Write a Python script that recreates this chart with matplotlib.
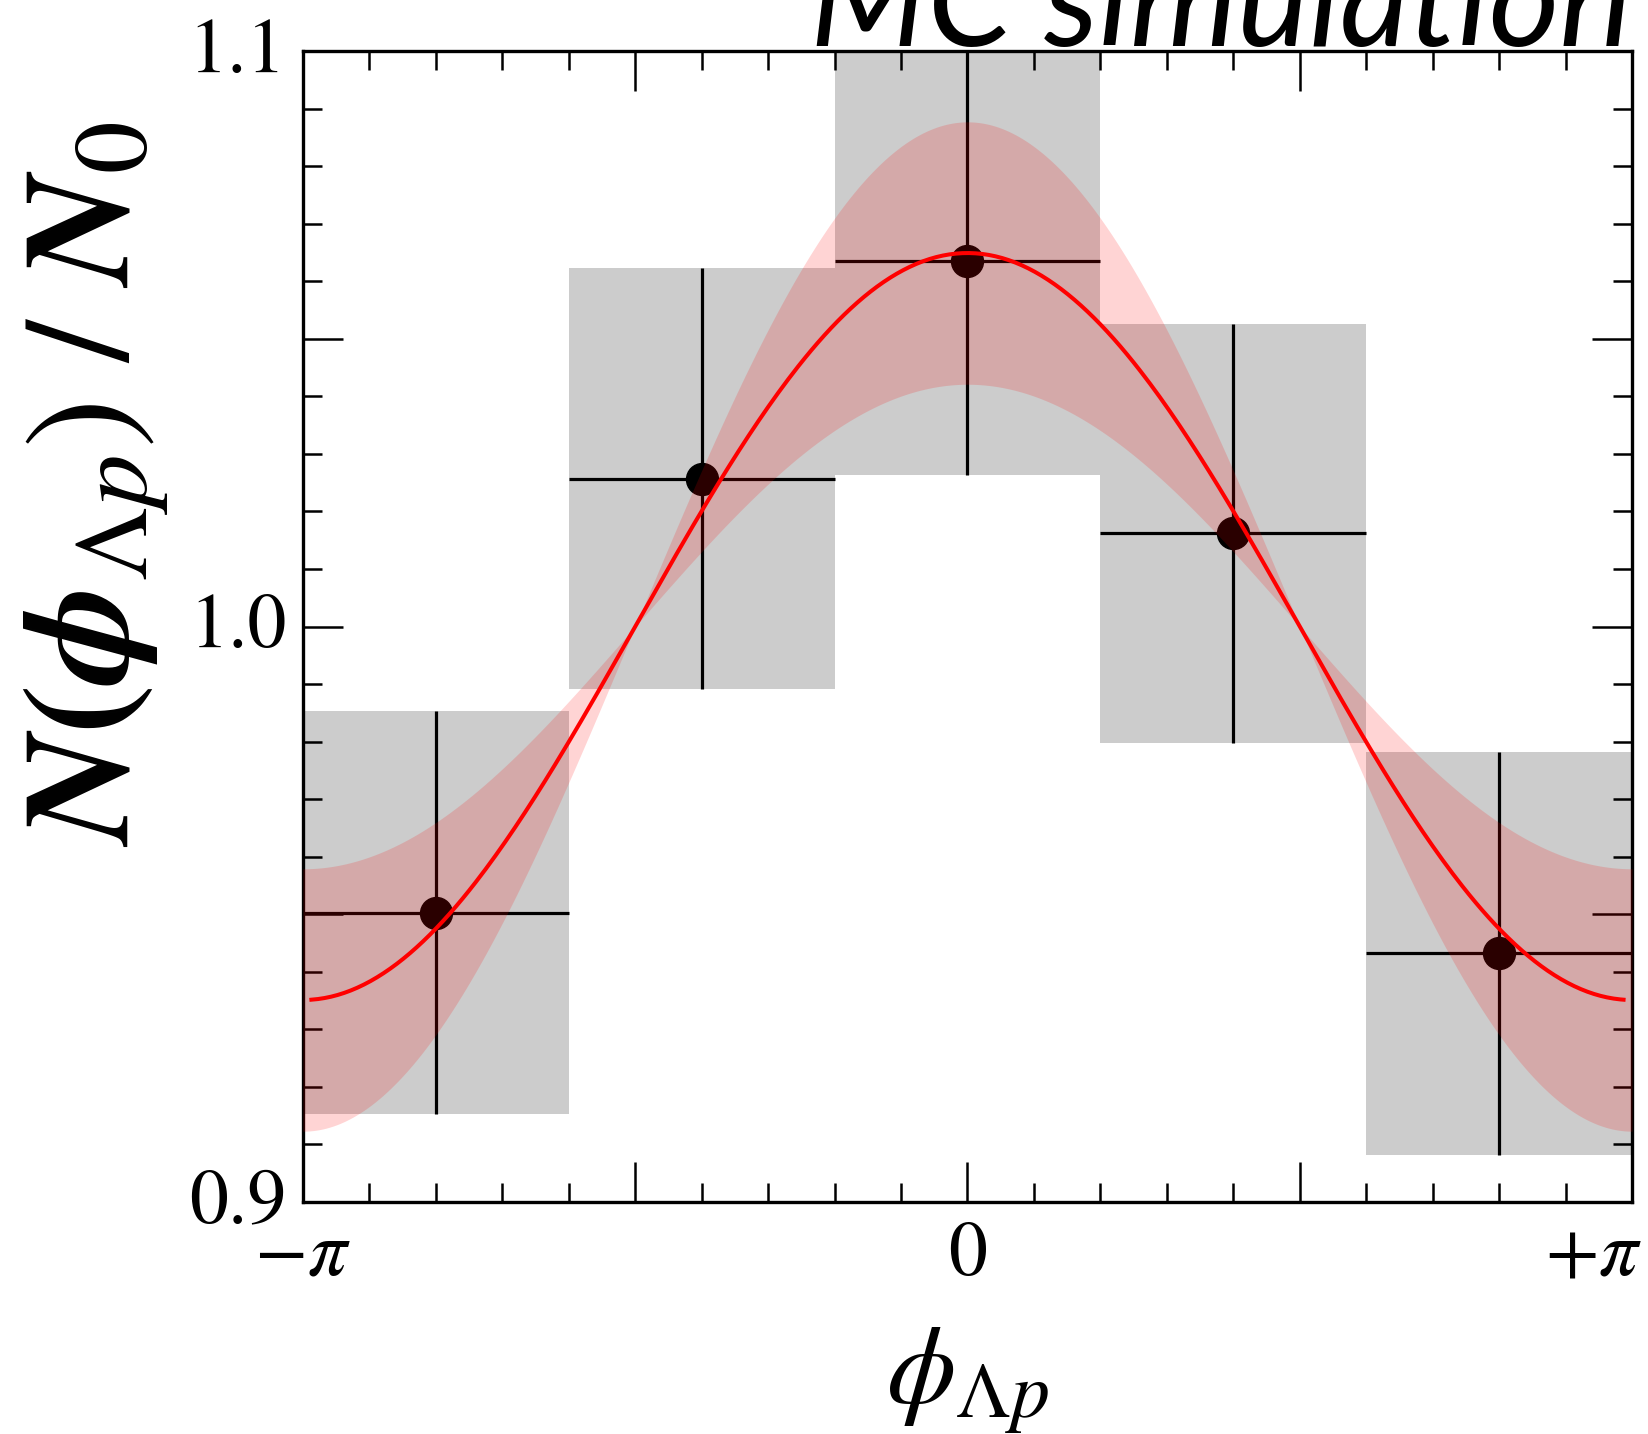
import numpy as np
import matplotlib
matplotlib.use("Agg")
import matplotlib.pyplot as plt
import matplotlib.transforms as mtransforms
from matplotlib.ticker import FixedLocator, MultipleLocator, FixedFormatter

# ---- data ----
bin_edges_pi = [-1.0, -0.6, -0.2, 0.2, 0.6, 1.0]          # in units of pi
ratio_values = [0.9503, 1.0257, 1.0635, 1.0162, 0.9432]
ratio_errors = [0.0350, 0.0366, 0.0371, 0.0364, 0.0350]
fit_offset = 1.0
fit_amplitude = 0.0649
fit_amplitude_err = 0.0228
xtick_labels = [r'$-\pi$', '', r'$0$', '', r'$+\pi$']
ytick_labels = ['0.9', '', '1.0', '', '1.1']

edges = np.array(bin_edges_pi) * np.pi
centers = 0.5 * (edges[:-1] + edges[1:])
halfw = 0.5 * (edges[1:] - edges[:-1])
vals = np.array(ratio_values)
errs = np.array(ratio_errors)

plt.rcParams['mathtext.fontset'] = 'stix'
plt.rcParams['font.family'] = ['STIXGeneral', 'DejaVu Sans']

fig = plt.figure(figsize=(16.49, 14.34), dpi=100)
ax = fig.add_axes([0.1837, 0.1618, 0.9897 - 0.1837, 0.9644 - 0.1618])

# gray systematic boxes
for c, h, v, e in zip(centers, halfw, vals, errs):
    ax.fill_between([c - h, c + h], [v - e] * 2, [v + e] * 2,
                    color='#cccccc', lw=0, zorder=1)

# data points with error bars
ax.errorbar(centers, vals, yerr=errs, xerr=halfw, fmt='o', color='black',
            ms=23, elinewidth=2.3, capsize=0, zorder=2)

# fit band and curve
phi = np.linspace(-np.pi, np.pi, 400)
up = fit_offset + (fit_amplitude + fit_amplitude_err) * np.cos(phi)
lo = fit_offset + (fit_amplitude - fit_amplitude_err) * np.cos(phi)
ax.fill_between(phi, lo, up, color='red', alpha=0.17, lw=0, zorder=3)
phi_c = np.linspace(-np.pi + 0.04, np.pi - 0.04, 400)
ax.plot(phi_c, fit_offset + fit_amplitude * np.cos(phi_c), color='red',
        lw=2.9, zorder=4)

ax.set_xlim(-np.pi, np.pi)
ax.set_ylim(0.9, 1.1)

ax.xaxis.set_major_locator(FixedLocator(np.array([-1, -0.5, 0, 0.5, 1]) * np.pi))
ax.xaxis.set_major_formatter(FixedFormatter(xtick_labels))
ax.xaxis.set_minor_locator(MultipleLocator(np.pi / 10))
ax.yaxis.set_major_locator(FixedLocator([0.9, 0.95, 1.0, 1.05, 1.1]))
ax.yaxis.set_major_formatter(FixedFormatter(ytick_labels))
ax.yaxis.set_minor_locator(MultipleLocator(0.01))

ax.tick_params(which='both', direction='in', top=True, right=True, width=1.8,
               labelsize=56)
ax.tick_params(which='major', length=29)
ax.tick_params(which='minor', length=14)
ax.tick_params(axis='y', pad=12)
ax.tick_params(axis='x', pad=14)
for s in ax.spines.values():
    s.set_linewidth(2.4)

fig.canvas.draw()
# last x tick label: right-aligned just past the axis end
last = ax.get_xticklabels()[-1]
last.set_ha('right')
last.set_transform(last.get_transform() +
                   mtransforms.ScaledTranslation(10 / 100, 0, fig.dpi_scale_trans))
# y tick labels sit slightly higher
for lab in ax.get_yticklabels():
    lab.set_transform(lab.get_transform() +
                      mtransforms.ScaledTranslation(0, 6 / 100, fig.dpi_scale_trans))

ax.set_xlabel(r'$\phi_{\Lambda p}$', fontsize=80, va='center')
ax.xaxis.set_label_coords(0.5, -0.155)
ax.set_ylabel(r'$\mathbfit{N}\mathbf{(}\mathbfit{\phi}_{\Lambda p})\ /\ \mathbfit{N}_0$',
              fontsize=108, va='center')
ax.yaxis.set_label_coords(-0.155, 0.624)

fig.text(1632 / 1649, 1 - 46 / 1434, 'MC simulation', ha='right', va='baseline',
         family=['Lato', 'DejaVu Sans'], style='italic', fontsize=98)

fig.savefig('out.png', dpi=100)
